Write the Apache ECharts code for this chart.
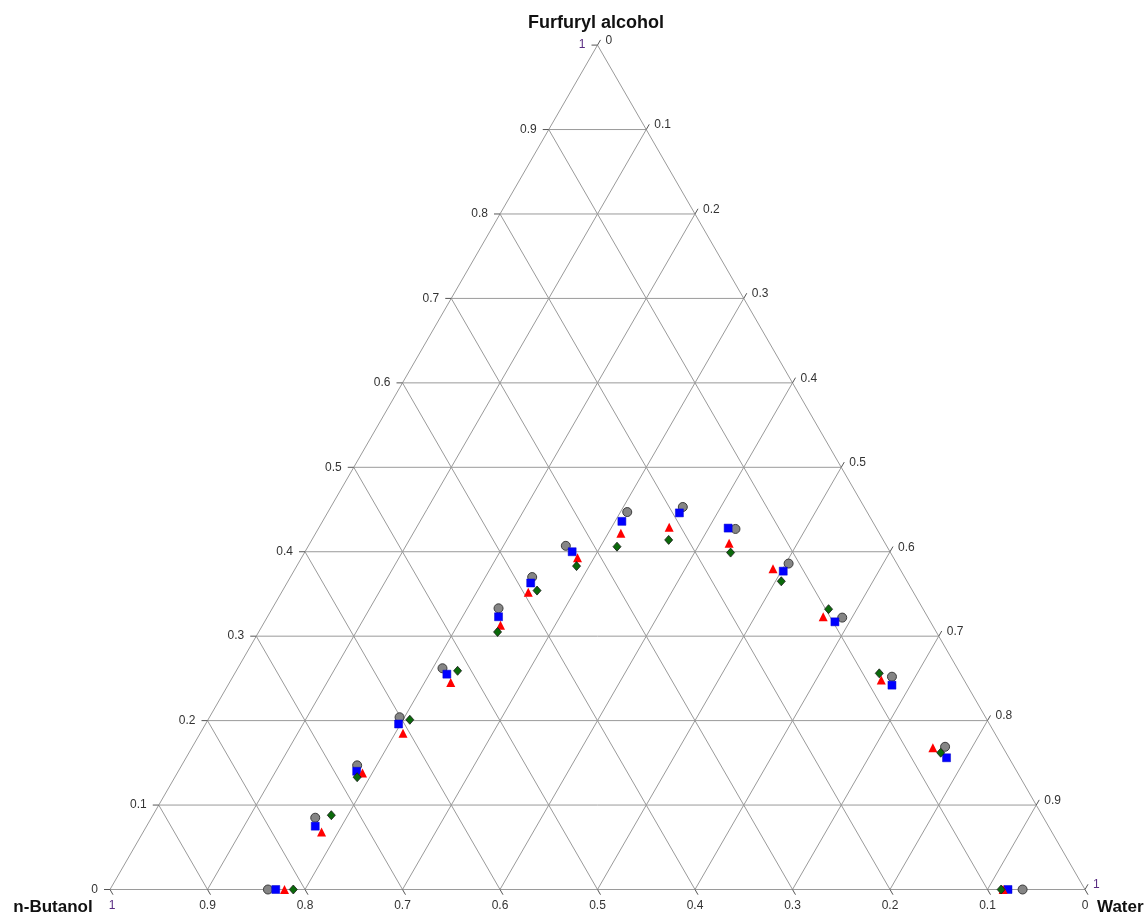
<!DOCTYPE html>
<html>
<head>
<meta charset="utf-8">
<script src="https://cdn.jsdelivr.net/npm/echarts@6/dist/echarts.min.js"></script>
<style>
html,body{margin:0;padding:0;background:#fff;}
#main{width:1145px;height:916px;}
</style>
</head>
<body>
<div id="main"></div>
<script>
// Axis names
const topName = 'Furfuryl alcohol';
const leftName = 'n-Butanol';
const rightName = 'Water';

// Tick values / labels (fractions)
const tickValues = [0, 0.1, 0.2, 0.3, 0.4, 0.5, 0.6, 0.7, 0.8, 0.9, 1];
const tickLabels = ['0', '0.1', '0.2', '0.3', '0.4', '0.5', '0.6', '0.7', '0.8', '0.9', '1'];

// Compositions [n-Butanol, Furfuryl alcohol, Water]
const grayCircles = [
  [0.838, 0.000, 0.162], [0.747, 0.085, 0.168], [0.673, 0.147, 0.180], [0.601, 0.204, 0.195],
  [0.528, 0.262, 0.210], [0.435, 0.333, 0.232], [0.382, 0.370, 0.248], [0.329, 0.407, 0.264],
  [0.246, 0.447, 0.307], [0.186, 0.453, 0.361], [0.145, 0.427, 0.428], [0.111, 0.386, 0.503],
  [0.088, 0.322, 0.590], [0.072, 0.252, 0.676], [0.059, 0.169, 0.772], [0.064, 0.000, 0.936]
];
const blueSquares = [
  [0.830, 0.000, 0.170], [0.752, 0.075, 0.173], [0.677, 0.140, 0.183], [0.606, 0.196, 0.198],
  [0.527, 0.255, 0.218], [0.440, 0.323, 0.237], [0.387, 0.363, 0.250], [0.326, 0.400, 0.274],
  [0.257, 0.436, 0.307], [0.193, 0.446, 0.361], [0.152, 0.428, 0.420], [0.121, 0.377, 0.502],
  [0.098, 0.317, 0.585], [0.077, 0.242, 0.681], [0.064, 0.156, 0.780], [0.079, 0.000, 0.921]
];
const redTriangles = [
  [0.821, 0.000, 0.179], [0.749, 0.068, 0.183], [0.672, 0.138, 0.190], [0.607, 0.185, 0.208],
  [0.528, 0.245, 0.227], [0.443, 0.313, 0.244], [0.395, 0.352, 0.253], [0.324, 0.393, 0.283],
  [0.265, 0.422, 0.313], [0.212, 0.429, 0.359], [0.160, 0.410, 0.430], [0.130, 0.380, 0.490],
  [0.107, 0.323, 0.570], [0.085, 0.248, 0.667], [0.072, 0.168, 0.760], [0.084, 0.000, 0.916]
];
const greenDiamonds = [
  [0.812, 0.000, 0.188], [0.729, 0.088, 0.183], [0.680, 0.133, 0.187], [0.592, 0.201, 0.207],
  [0.514, 0.259, 0.227], [0.450, 0.305, 0.245], [0.385, 0.354, 0.261], [0.330, 0.383, 0.287],
  [0.277, 0.406, 0.317], [0.220, 0.414, 0.366], [0.164, 0.399, 0.437], [0.129, 0.365, 0.506],
  [0.097, 0.332, 0.571], [0.083, 0.256, 0.661], [0.067, 0.162, 0.771], [0.086, 0.000, 0.914]
];

const SQ = Math.sqrt(3) / 2;
function toXY(c) { const f = c[1], w = c[2]; return [w + f / 2, f * SQ]; }

// grid segments in ternary-cartesian space
const segments = [];
segments.push([0, 0, 1, 0], [0, 0, 0.5, SQ], [1, 0, 0.5, SQ]);
for (let i = 1; i < tickValues.length - 1; i++) {
  const t = tickValues[i];
  segments.push([t / 2, t * SQ, 1 - t / 2, t * SQ]);          // furfuryl = t
  segments.push([t, 0, (1 + t) / 2, (1 - t) * SQ]);           // water = t
  segments.push([1 - t, 0, (1 - t) / 2, (1 - t) * SQ]);       // butanol = t
}

// tick/label items
const labelItems = [];
tickValues.forEach((t, i) => {
  labelItems.push({ p: [t / 2, t * SQ], text: tickLabels[i], side: 'left' });
  labelItems.push({ p: [(1 + t) / 2, (1 - t) * SQ], text: tickLabels[i], side: 'right' });
  labelItems.push({ p: [1 - t, 0], text: tickLabels[i], side: 'bottom' });
});

const lineColor = '#9a9a9a';
const numFont = '12px "Liberation Sans", Arial, sans-serif';
const numColor = '#333';
const oneColor = '#5a2d82';

const chart = echarts.init(document.getElementById('main'), null, { renderer: 'canvas' });
chart.setOption({
  animation: false,
  backgroundColor: '#fff',
  grid: { left: 110, right: 60, top: 45.1, bottom: 26.5 },
  xAxis: { type: 'value', min: 0, max: 1, show: false },
  yAxis: { type: 'value', min: 0, max: SQ, show: false },
  graphic: [
    { type: 'text', x: 596, y: 23, style: { text: topName, font: 'bold 18px "Liberation Sans", Arial, sans-serif', fill: '#111', textAlign: 'center', textVerticalAlign: 'middle', align: 'center', verticalAlign: 'middle' } },
    { type: 'text', x: 53, y: 907, style: { text: leftName, font: 'bold 17px "Liberation Sans", Arial, sans-serif', fill: '#111', textAlign: 'center', textVerticalAlign: 'middle', align: 'center', verticalAlign: 'middle' } },
    { type: 'text', x: 1097, y: 907, style: { text: rightName, font: 'bold 17px "Liberation Sans", Arial, sans-serif', fill: '#111', textAlign: 'left', textVerticalAlign: 'middle', align: 'left', verticalAlign: 'middle' } }
  ],
  series: [
    {
      type: 'custom', silent: true, clip: false, z: 1,
      data: segments,
      encode: { x: [0, 2], y: [1, 3] },
      renderItem: function (params, api) {
        const a = api.coord([api.value(0), api.value(1)]);
        const b = api.coord([api.value(2), api.value(3)]);
        return { type: 'line', shape: { x1: a[0], y1: a[1], x2: b[0], y2: b[1] }, style: { stroke: lineColor, lineWidth: 1 } };
      }
    },
    {
      type: 'custom', silent: true, clip: false, z: 1,
      data: labelItems.map(d => d.p),
      renderItem: function (params, api) {
        const item = labelItems[params.dataIndex];
        const p = api.coord([api.value(0), api.value(1)]);
        let tx, ty, lx, ly, al, va = 'middle';
        if (item.side === 'left') { tx = p[0] - 6; ty = p[1]; lx = p[0] - 12; ly = p[1]; al = 'right'; }
        else if (item.side === 'right') { tx = p[0] + 3; ty = p[1] - 5.2; lx = p[0] + 8; ly = p[1] - 4.5; al = 'left'; }
        else { tx = p[0] + 3; ty = p[1] + 5.2; lx = p[0] + (item.text === '1' ? 2 : 0); ly = p[1] + 16; al = 'center'; }
        return {
          type: 'group',
          children: [
            { type: 'line', shape: { x1: p[0], y1: p[1], x2: tx, y2: ty }, style: { stroke: '#555', lineWidth: 1 } },
            { type: 'text', x: lx, y: ly, style: { text: item.text, font: numFont, fill: item.text === '1' ? oneColor : numColor, textAlign: al, textVerticalAlign: va, align: al, verticalAlign: va } }
          ]
        };
      }
    },
    {
      type: 'scatter', name: 'gray', z: 3, data: grayCircles.map(toXY),
      symbol: 'circle', symbolSize: 9,
      itemStyle: { color: '#858585', borderColor: '#3c3c3c', borderWidth: 1, opacity: 1 }
    },
    {
      type: 'scatter', name: 'blue', z: 3, data: blueSquares.map(toXY),
      symbol: 'rect', symbolSize: 8,
      itemStyle: { color: '#0000ff', borderColor: '#0000cc', borderWidth: 0.5, opacity: 1 }
    },
    {
      type: 'scatter', name: 'red', z: 3, data: redTriangles.map(toXY),
      symbol: 'triangle', symbolSize: 9,
      itemStyle: { color: '#ff0000', opacity: 1 }
    },
    {
      type: 'scatter', name: 'green', z: 3, data: greenDiamonds.map(toXY),
      symbol: 'diamond', symbolSize: [8, 9],
      itemStyle: { color: '#0a6a0a', borderColor: '#1a1a1a', borderWidth: 0.8, opacity: 1 }
    }
  ]
});
</script>
</body>
</html>
